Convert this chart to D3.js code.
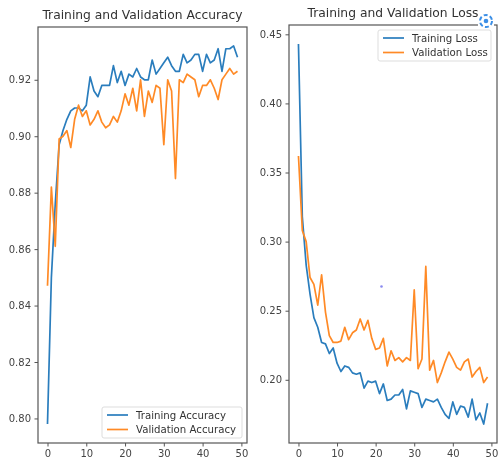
<!DOCTYPE html>
<html>
<head>
<meta charset="utf-8">
<script src="https://cdn.jsdelivr.net/npm/d3@7"></script>
<style>
  html, body { margin: 0; padding: 0; background: #fff; }
  svg { display: block; font-family: "DejaVu Sans", sans-serif; }
</style>
</head>
<body>
<svg id="chart" width="498" height="462"></svg>
<script>
// epochs 0..49
const epochs = d3.range(50);

const trainAcc = [0.798, 0.850, 0.876, 0.897, 0.902, 0.906, 0.909, 0.910, 0.910, 0.909,
                  0.911, 0.921, 0.916, 0.914, 0.918, 0.918, 0.918, 0.925, 0.919, 0.923,
                  0.918, 0.922, 0.921, 0.924, 0.921, 0.920, 0.920, 0.927, 0.922, 0.924,
                  0.926, 0.928, 0.925, 0.923, 0.923, 0.929, 0.926, 0.927, 0.929, 0.929,
                  0.923, 0.929, 0.926, 0.927, 0.931, 0.923, 0.931, 0.931, 0.932, 0.928];

const valAcc = [0.847, 0.882, 0.861, 0.899, 0.900, 0.902, 0.896, 0.906, 0.911, 0.907,
                0.909, 0.904, 0.906, 0.909, 0.905, 0.903, 0.904, 0.907, 0.905, 0.909,
                0.915, 0.911, 0.917, 0.909, 0.920, 0.907, 0.916, 0.912, 0.918, 0.917,
                0.897, 0.920, 0.916, 0.885, 0.920, 0.919, 0.922, 0.921, 0.920, 0.914,
                0.918, 0.918, 0.920, 0.917, 0.913, 0.920, 0.922, 0.924, 0.922, 0.923];

const trainLoss = [0.443, 0.318, 0.283, 0.262, 0.245, 0.238, 0.227, 0.226, 0.219, 0.223,
                   0.212, 0.206, 0.210, 0.209, 0.205, 0.204, 0.205, 0.194, 0.199, 0.198,
                   0.199, 0.190, 0.197, 0.185, 0.186, 0.189, 0.189, 0.193, 0.179, 0.192,
                   0.191, 0.190, 0.180, 0.186, 0.185, 0.184, 0.186, 0.180, 0.175, 0.172,
                   0.184, 0.175, 0.181, 0.180, 0.173, 0.186, 0.171, 0.176, 0.168, 0.183];

const valLoss = [0.362, 0.308, 0.300, 0.274, 0.269, 0.254, 0.276, 0.249, 0.232, 0.227,
                 0.227, 0.228, 0.238, 0.229, 0.234, 0.236, 0.244, 0.236, 0.243, 0.230,
                 0.222, 0.223, 0.230, 0.210, 0.221, 0.214, 0.216, 0.213, 0.216, 0.214,
                 0.265, 0.208, 0.215, 0.282, 0.207, 0.214, 0.198, 0.205, 0.213, 0.220,
                 0.215, 0.209, 0.207, 0.213, 0.215, 0.202, 0.206, 0.209, 0.198, 0.202];

const xTicks = [0, 10, 20, 30, 40, 50];
const accTicks = [0.80, 0.82, 0.84, 0.86, 0.88, 0.90, 0.92];
const lossTicks = [0.20, 0.25, 0.30, 0.35, 0.40, 0.45];

const BLUE = "#2a7dbd", ORANGE = "#ff8a26";

const svg = d3.select("#chart");

// the reference is a soft, slightly blurred screenshot
svg.append("defs").append("filter").attr("id", "soft")
    .append("feGaussianBlur").attr("stdDeviation", 0.45);
const root = svg.append("g").attr("filter", "url(#soft)");
root.append("rect").attr("width", 498).attr("height", 462).attr("fill", "#fff");

// matplotlib-like 5% margins
function padded(lo, hi) {
    const m = (hi - lo) * 0.05;
    return [lo - m, hi + m];
}

function drawPanel(opts) {
    const { left, top, width, height, title, train, val, yTicks, labels, legendPos } = opts;
    const g = root.append("g").attr("transform", `translate(${left},${top})`);

    const x = d3.scaleLinear().domain(padded(0, 49)).range([0, width]);
    const all = train.concat(val);
    const y = d3.scaleLinear().domain(padded(d3.min(all), d3.max(all))).range([height, 0]);

    const line = d3.line().x((d, i) => x(epochs[i])).y(d => y(d));

    g.append("path").datum(train)
        .attr("fill", "none").attr("stroke", BLUE).attr("stroke-width", 1.7)
        .attr("stroke-linejoin", "round").attr("d", line);
    g.append("path").datum(val)
        .attr("fill", "none").attr("stroke", ORANGE).attr("stroke-width", 1.7)
        .attr("stroke-linejoin", "round").attr("d", line);

    // axes
    const xAxis = g.append("g").attr("transform", `translate(0,${height})`)
        .call(d3.axisBottom(x).tickValues(xTicks).tickSize(3.5).tickPadding(3.5).tickFormat(d3.format("d")));
    const yAxis = g.append("g")
        .call(d3.axisLeft(y).tickValues(yTicks).tickSize(3.5).tickPadding(3.5).tickFormat(d3.format(".2f")));
    [xAxis, yAxis].forEach(a => {
        a.select(".domain").remove();
        a.selectAll(".tick line").attr("stroke", "#555");
        a.selectAll(".tick text").attr("font-size", 10).attr("font-family", "DejaVu Sans").attr("fill", "#444");
    });

    // frame
    g.append("rect").attr("width", width).attr("height", height)
        .attr("fill", "none").attr("stroke", "#555").attr("stroke-width", 1.2);

    g.append("text").attr("x", width / 2).attr("y", -8)
        .attr("text-anchor", "middle").attr("font-size", 12.3).attr("fill", "#333")
        .text(title);

    // legend
    const lg = g.append("g").attr("transform", `translate(${legendPos[0]},${legendPos[1]})`);
    lg.append("rect").attr("width", legendPos[2]).attr("height", 31).attr("rx", 2)
        .attr("fill", "#fff").attr("fill-opacity", 0.85).attr("stroke", "#ddd");
    [[BLUE, labels[0]], [ORANGE, labels[1]]].forEach((d, i) => {
        const yy = 8 + i * 14.5;
        lg.append("line").attr("x1", 5).attr("x2", 26).attr("y1", yy).attr("y2", yy)
            .attr("stroke", d[0]).attr("stroke-width", 1.7);
        lg.append("text").attr("x", 34).attr("y", yy + 3.5)
            .attr("font-size", 10.2).attr("fill", "#333").text(d[1]);
    });
}

drawPanel({
    left: 38, top: 27, width: 209, height: 416,
    title: "Training and Validation Accuracy",
    train: trainAcc, val: valAcc, yTicks: accTicks,
    labels: ["Training Accuracy", "Validation Accuracy"],
    legendPos: [64, 380, 140]
});

drawPanel({
    left: 289, top: 25, width: 208, height: 418,
    title: "Training and Validation Loss",
    train: trainLoss, val: valLoss, yTicks: lossTicks,
    labels: ["Training Loss", "Validation Loss"],
    legendPos: [89, 5, 113]
});

// screenshot overlay icon (top right) and stray dot
const icon = root.append("g").attr("transform", "translate(486,21)");
icon.append("rect").attr("x", -8).attr("y", -8).attr("width", 16).attr("height", 16).attr("fill", "#fff");
icon.append("circle").attr("r", 6).attr("fill", "none").attr("stroke", "#3a8ee6")
    .attr("stroke-width", 2).attr("stroke-dasharray", "4 2.3");
icon.append("circle").attr("r", 2.3).attr("fill", "#3a8ee6");
root.append("circle").attr("cx", 381.5).attr("cy", 286.5).attr("r", 1.3).attr("fill", "#8a8af0");
</script>
</body>
</html>
